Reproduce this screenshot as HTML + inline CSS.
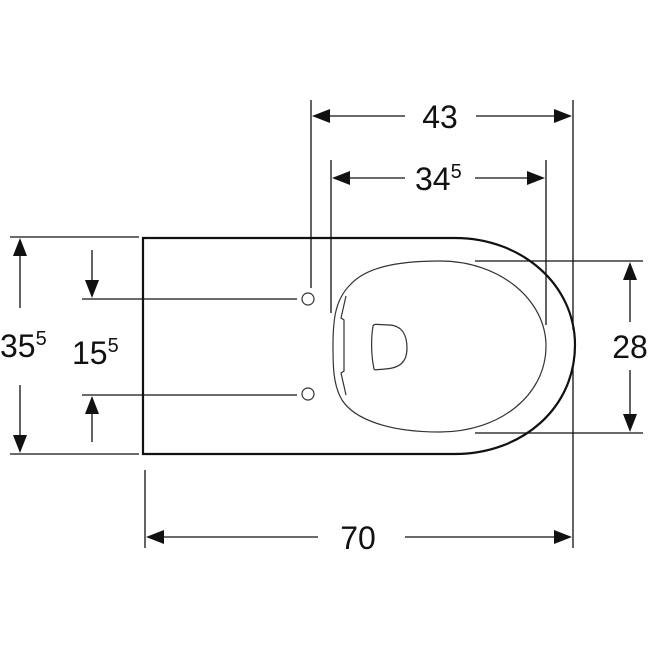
<!DOCTYPE html>
<html><head><style>body{margin:0;background:#fff}</style></head><body>
<svg width="650" height="650" xmlns="http://www.w3.org/2000/svg" font-family="Liberation Sans, sans-serif" fill="none">
<g stroke="#111" stroke-width="1.3">
<line x1="311" y1="100" x2="311" y2="288"/>
<line x1="573" y1="100" x2="573" y2="330"/>
<line x1="573" y1="364" x2="573" y2="548"/>
<line x1="331" y1="160" x2="331" y2="313"/>
<line x1="546" y1="160" x2="546" y2="325"/>
<line x1="475" y1="261" x2="643" y2="261"/>
<line x1="475" y1="433" x2="643" y2="433"/>
<line x1="145" y1="470" x2="145" y2="548"/>
<line x1="10" y1="237" x2="139" y2="237"/>
<line x1="10" y1="454" x2="139" y2="454"/>
<line x1="82" y1="299" x2="297" y2="299"/>
<line x1="82" y1="395" x2="297" y2="395"/>
<line x1="315" y1="116" x2="405" y2="116"/><line x1="476" y1="116" x2="569" y2="116"/>
<line x1="335" y1="178" x2="405" y2="178"/><line x1="475" y1="178" x2="542" y2="178"/>
<line x1="149" y1="537" x2="318" y2="537"/><line x1="405" y1="537" x2="569" y2="537"/>
<line x1="630" y1="265" x2="630" y2="322"/><line x1="630" y1="370" x2="630" y2="429"/>
<line x1="20" y1="241" x2="20" y2="308"/><line x1="20" y1="385" x2="20" y2="450"/>
<line x1="92" y1="250" x2="92" y2="290"/><line x1="92" y1="404" x2="92" y2="442"/>
</g>
<g fill="#111">
<path d="M312,116l18,-7v14z"/><path d="M572,116l-18,-7v14z"/>
<path d="M332,178l18,-7v14z"/><path d="M545,178l-18,-7v14z"/>
<path d="M146,537l18,-7v14z"/><path d="M572,537l-18,-7v14z"/>
<path d="M630,262l-7,18h14z"/><path d="M630,432l-7,-18h14z"/>
<path d="M20,238l-7,18h14z"/><path d="M20,453l-7,-18h14z"/>
<path d="M92,298l-7,-18h14z"/><path d="M92,396l-7,18h14z"/>
</g>
<path d="M143,454V238H455C522,238 575,285 575,345C575,408 522,454 455,454H143Z" stroke="#111" stroke-width="2.2"/>
<circle cx="308" cy="299" r="6" stroke="#333" stroke-width="1.2"/>
<circle cx="308" cy="394" r="6" stroke="#333" stroke-width="1.2"/>
<path d="M440,261C500,261 546,300 546,346C546,395 500,432 440,432C390,432 355,420 342,400C333,385 333,365 333,346C333,320 335,300 350,285C365,268 395,261 440,261Z" stroke="#333" stroke-width="1.2"/>
<path d="M346,296L341,318L344,320V371L341,373L346,395" stroke="#333" stroke-width="1.2"/>
<path d="M373,326C374,323 380,325 390,325C402,326 407,335 407,348C407,362 400,368 385,369C374,370 374,370 374,369C371,355 371,338 373,326Z" stroke="#333" stroke-width="1.2"/>
<g fill="#111" font-size="32">
<text x="440" y="128" text-anchor="middle">43</text>
<text x="415" y="190">34<tspan font-size="20" dy="-12">5</tspan></text>
<text x="358" y="549" text-anchor="middle">70</text>
<text x="630" y="358" text-anchor="middle">28</text>
<text x="0" y="357">35<tspan font-size="20" dy="-12">5</tspan></text>
<text x="72" y="364">15<tspan font-size="20" dy="-12">5</tspan></text>
</g>
</svg>
</body></html>
